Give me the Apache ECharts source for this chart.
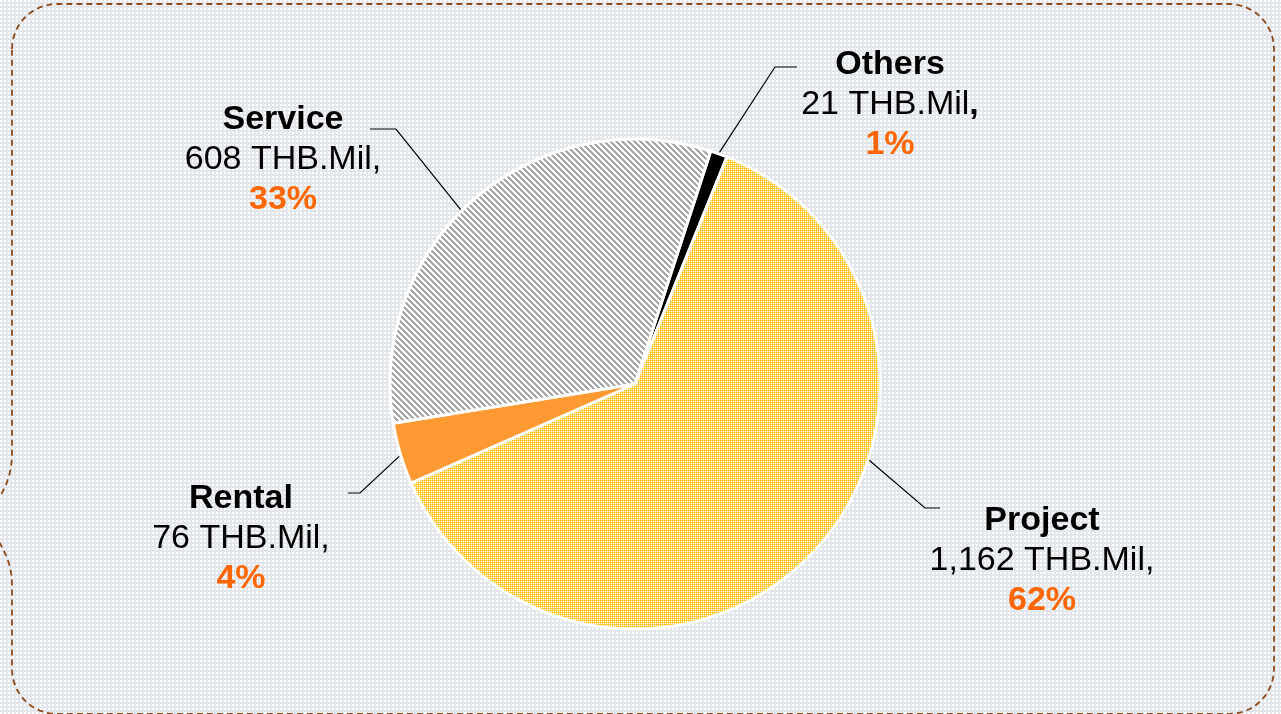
<!DOCTYPE html>
<html>
<head>
<meta charset="utf-8">
<script src="https://cdn.jsdelivr.net/npm/echarts@6/dist/echarts.min.js"></script>
<style>
  html, body { margin: 0; padding: 0; }
  #chart { width: 1281px; height: 714px; }
</style>
</head>
<body>
<div id="chart"></div>
<script>
// data
const categories = ['Others', 'Project', 'Rental', 'Service'];
const revenue = [21, 1162, 76, 608];   // THB.Mil

// pie geometry
const CX = 635, CY = 384, R = 245;
const FONT = '"Liberation Sans", Arial, sans-serif';

// label block centres and leader lines (angle of the start point, elbow, end)
const labelSpots = {
    Others:  { x: 890,  y: 105, angle: 20,  elbow: [775, 67],  end: [797, 67] },
    Project: { x: 1042, y: 561, angle: 108, elbow: [925, 508], end: [940, 508] },
    Rental:  { x: 241,  y: 539, angle: 253, elbow: [360, 493], end: [348, 493] },
    Service: { x: 283,  y: 160, angle: 315, elbow: [396, 129], end: [370, 129] }
};

// small tiled patterns
function makeTile(w, h, painter) {
    const c = document.createElement('canvas');
    c.width = w; c.height = h;
    const ctx = c.getContext('2d');
    for (let y = 0; y < h; y++) {
        for (let x = 0; x < w; x++) {
            ctx.fillStyle = painter(x, y);
            ctx.fillRect(x, y, 1, 1);
        }
    }
    return c;
}

const bgTile = makeTile(4, 4, (x, y) => (x < 2 && y < 2) ? '#ffffff' : '#e3e6ea');
const greyTile = makeTile(6, 6, (x, y) => (((x - y) % 6 + 6) % 6 < 3) ? '#a6a6a6' : '#ffffff');
const yellowTile = makeTile(2, 2, (x, y) => (x === 1 && y === 1) ? '#ffffff' : (x === 0 && y === 0 ? '#ffc000' : '#fad152'));

const sliceColors = {
    Others: '#000000',
    Project: { image: yellowTile, repeat: 'repeat' },
    Rental: '#ff9a33',
    Service: { image: greyTile, repeat: 'repeat' }
};

// dashed frame outline, sampled into one polyline
function framePoints() {
    const pts = [];
    const rr = 45, L = 12, T = 4, Rt = 1274, B = 714;
    function arc(cx, cy, a0, a1) {
        for (let k = 0; k <= 12; k++) {
            const a = a0 + (a1 - a0) * k / 12;
            pts.push([cx + rr * Math.cos(a), cy + rr * Math.sin(a)]);
        }
    }
    function bez(p0, p1, p2, p3) {
        for (let k = 0; k <= 12; k++) {
            const t = k / 12, u = 1 - t;
            pts.push([
                u * u * u * p0[0] + 3 * u * u * t * p1[0] + 3 * u * t * t * p2[0] + t * t * t * p3[0],
                u * u * u * p0[1] + 3 * u * u * t * p1[1] + 3 * u * t * t * p2[1] + t * t * t * p3[1]
            ]);
        }
    }
    arc(L + rr, T + rr, Math.PI, Math.PI * 1.5);
    arc(Rt - rr, T + rr, -Math.PI / 2, 0);
    arc(Rt - rr, B - rr, 0, Math.PI / 2);
    arc(L + rr, B - rr, Math.PI / 2, Math.PI);
    bez([L, 585], [L, 565], [5, 552], [-2, 540]);
    pts.push([-12, 519]);
    bez([-2, 500], [5, 488], [L, 475], [L, 453]);
    pts.push([L, T + rr]);
    return pts;
}

const chart = echarts.init(document.getElementById('chart'));

const option = {
    backgroundColor: { image: bgTile, repeat: 'repeat' },
    animation: false,
    graphic: [
        {
            type: 'polyline',
            silent: true,
            shape: { points: framePoints() },
            style: {
                fill: null,
                stroke: '#8c4a1c',
                lineWidth: 1.8,
                lineDash: [6, 4]
            }
        }
    ],
    series: [
        {
            type: 'pie',
            center: [CX, CY],
            radius: R,
            startAngle: 72,
            clockwise: true,
            avoidLabelOverlap: false,
            percentPrecision: 0,
            itemStyle: {
                borderColor: '#ffffff',
                borderWidth: 3
            },
            label: {
                show: true,
                position: 'outside',
                align: 'center',
                fontFamily: FONT,
                formatter: function (p) {
                    const comma = p.name === 'Others' ? '{nb|,}' : '{val|,}';
                    return '{nm|' + p.name + '}\n{val|' +
                        p.value.toLocaleString('en-US') + ' THB.Mil}' + comma + '\n{pct|' +
                        p.percent + '%}';
                },
                rich: {
                    nm: { fontFamily: FONT, fontSize: 34, fontWeight: 'bold', color: '#000', lineHeight: 40 },
                    val: { fontFamily: FONT, fontSize: 34, color: '#000', lineHeight: 40 },
                    nb: { fontFamily: FONT, fontSize: 34, fontWeight: 'bold', color: '#000', lineHeight: 40 },
                    pct: { fontFamily: FONT, fontSize: 34, fontWeight: 'bold', color: '#ff6600', lineHeight: 40 }
                },
                fontSize: 34,
                lineHeight: 40,
                color: '#000'
            },
            labelLine: {
                show: true,
                length: 20,
                length2: 20,
                lineStyle: { color: '#000', width: 1.2 }
            },
            labelLayout: function (params) {
                const spot = labelSpots[categories[params.dataIndex]];
                const a = spot.angle * Math.PI / 180;
                const start = [CX + (R + 1) * Math.sin(a), CY - (R + 1) * Math.cos(a)];
                return {
                    x: spot.x,
                    y: spot.y,
                    align: 'center',
                    verticalAlign: 'middle',
                    labelLinePoints: [start, spot.elbow, spot.end]
                };
            },
            data: categories.map((name, i) => ({
                name: name,
                value: revenue[i],
                itemStyle: { color: sliceColors[name] }
            }))
        }
    ]
};

chart.setOption(option);
</script>
</body>
</html>
